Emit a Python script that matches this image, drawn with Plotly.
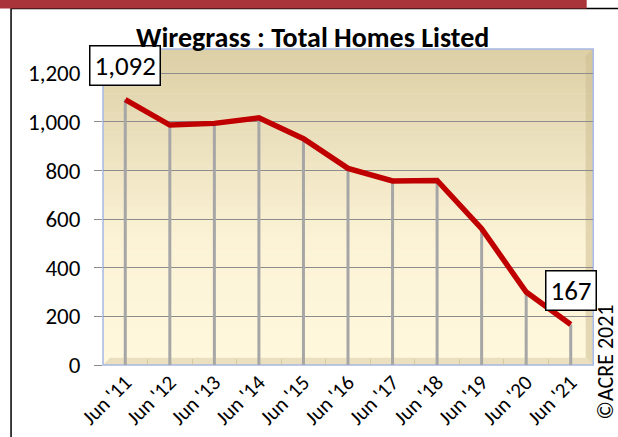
import plotly.graph_objects as go

# ---- data ----
categories = ["Jun '11", "Jun '12", "Jun '13", "Jun '14", "Jun '15", "Jun '16",
              "Jun '17", "Jun '18", "Jun '19", "Jun '20", "Jun '21"]
homes_listed = [1092, 987, 994, 1017, 931, 809, 757, 759, 561, 300, 167]
y_ticks = [0, 200, 400, 600, 800, 1000, 1200]
title_text = "Wiregrass : Total Homes Listed"
credit_text = "©ACRE 2021"
labelled_idx = [0, len(categories) - 1]

# ---- geometry ----
W, H = 618, 437
ML, MR, MT, MB = 103, 24.7, 49, 71.7
PW, PH = W - ML - MR, H - MT - MB


def px(x):
    return (x - ML) / PW


def py(y):
    return 1 - (y - MT) / PH


FONT = "Calibri, Carlito, Lato, 'Open Sans', sans-serif"

fig = go.Figure()

# drop lines
dx, dy = [], []
for c, v in zip(categories, homes_listed):
    dx += [c, c, None]
    dy += [0, v, None]
fig.add_trace(go.Scatter(x=dx, y=dy, mode="lines",
                         line=dict(color="#A6A6A6", width=3),
                         hoverinfo="skip", showlegend=False))

# main line
fig.add_trace(go.Scatter(x=categories, y=homes_listed, mode="lines",
                         line=dict(color="#C00000", width=5.5),
                         showlegend=False))

shapes = []
# gradient background bands
N = 50
top = (220, 207, 166)
mid = (252, 243, 214)
bot = (255, 248, 221)
for i in range(N):
    t = (i + 0.5) / N
    if t < 0.6:
        f = t / 0.6
        col = tuple(round(top[k] + (mid[k] - top[k]) * f) for k in range(3))
    else:
        f = (t - 0.6) / 0.4
        col = tuple(round(mid[k] + (bot[k] - mid[k]) * f) for k in range(3))
    shapes.append(dict(type="rect", xref="x domain", yref="y domain",
                       x0=0, x1=1, y0=1 - (i + 1) / N - 0.002, y1=1 - i / N,
                       fillcolor="rgb(%d,%d,%d)" % col, line=dict(width=0),
                       layer="below"))

# right wall bevel
shapes.append(dict(type="path", xref="paper", yref="paper",
                   path="M %f,%f L %f,%f L %f,%f L %f,%f Z" % (
                       px(586), py(56), px(593), py(49), px(593), py(365.3), px(586), py(358)),
                   fillcolor="rgba(205,190,145,0.55)", line=dict(width=0), layer="below"))
# floor bevel
shapes.append(dict(type="path", xref="paper", yref="paper",
                   path="M %f,%f L %f,%f L %f,%f L %f,%f Z" % (
                       px(103), py(365.3), px(110), py(358), px(586), py(358), px(593), py(365.3)),
                   fillcolor="rgb(234,223,190)", line=dict(width=0), layer="below"))
# plot border
shapes.append(dict(type="rect", xref="paper", yref="paper",
                   x0=px(103), x1=px(593.5), y0=py(365.3), y1=py(49),
                   line=dict(color="#A5B8E6", width=1.5), layer="below"))

# red banner and outer black frame
shapes.append(dict(type="rect", xref="paper", yref="paper",
                   x0=px(-5), x1=px(587), y0=py(8.5), y1=py(-5),
                   fillcolor="#A9343A", line=dict(width=0), layer="above"))
shapes.append(dict(type="rect", xref="paper", yref="paper",
                   x0=px(11), x1=px(640), y0=py(460), y1=py(8.5),
                   fillcolor="rgba(0,0,0,0)", line=dict(color="black", width=1.5),
                   layer="below"))

annotations = []
for i in labelled_idx:
    txt = "{:,}".format(homes_listed[i])
    annotations.append(dict(x=categories[i], y=homes_listed[i], text=txt,
                            showarrow=False, yshift=34,
                            font=dict(family=FONT, size=27, color="black"),
                            bgcolor="white", bordercolor="black", borderwidth=1.5,
                            borderpad=4, height=30))
annotations.append(dict(xref="paper", yref="paper", x=px(313), y=py(37),
                        text="<b>%s</b>" % title_text, showarrow=False,
                        xanchor="center", yanchor="middle",
                        font=dict(family=FONT, size=28, color="black")))
annotations.append(dict(xref="paper", yref="paper", x=px(606), y=py(362),
                        text=credit_text, textangle=-90, showarrow=False,
                        xanchor="center", yanchor="middle",
                        font=dict(family=FONT, size=22, color="black")))

fig.update_layout(
    width=W, height=H,
    margin=dict(l=ML, r=MR, t=MT, b=MB, autoexpand=False),
    paper_bgcolor="white",
    plot_bgcolor="rgba(0,0,0,0)",
    shapes=shapes,
    annotations=annotations,
    showlegend=False,
    xaxis=dict(type="category", categoryorder="array", categoryarray=categories,
               range=[-0.5, len(categories) - 0.5], automargin=False,
               tickangle=-45, tickfont=dict(family=FONT, size=21, color="black"),
               showgrid=False, zeroline=False, showline=False,
               ticks="inside", tickson="boundaries", ticklen=6,
               tickcolor="rgba(200,185,140,0.6)"),
    yaxis=dict(range=[0, 1300], tickvals=y_ticks, automargin=False,
               ticktext=["{:,}".format(v) for v in y_ticks],
               tickfont=dict(family=FONT, size=23, color="black"),
               showgrid=True, gridcolor="#8C8C8C", gridwidth=1,
               zeroline=False, showline=False,
               ticks="outside", ticklen=8, tickcolor="#8C8C8C",
               ticklabelstandoff=9),
)

fig.write_html("out.html", config={"displayModeBar": False},
               post_script="document.body.style.margin='0px';")
